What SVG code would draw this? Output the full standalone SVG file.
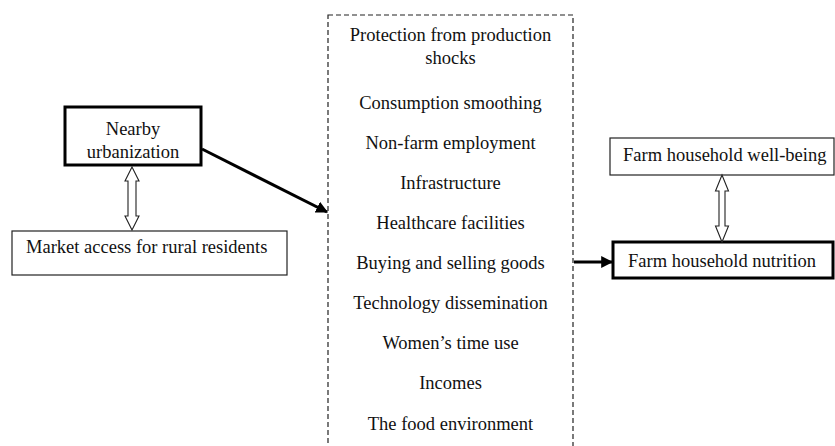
<svg xmlns="http://www.w3.org/2000/svg" width="835" height="446" viewBox="0 0 835 446" font-family="Liberation Serif, Times New Roman, serif" font-size="18.5">
  <defs>
    <marker id="head" viewBox="0 0 10 10" refX="9" refY="5" markerWidth="4" markerHeight="4" orient="auto" markerUnits="strokeWidth">
      <path d="M0,0 L10,5 L0,10 z" fill="#000"/>
    </marker>
  </defs>
  <style>
    text { fill: #111; }
    .box { fill: #fff; stroke: #222; stroke-width: 1.2; }
    .bold { fill: #fff; stroke: #000; stroke-width: 3; }
    .dash { fill: none; stroke: #222; stroke-width: 1.2; stroke-dasharray: 5 3; }
    .link { fill: none; stroke: #000; stroke-width: 3; }
    .dbl { fill: #fff; stroke: #222; stroke-width: 1.1; }
    .mid { text-anchor: middle; }
  </style>
  <rect width="835" height="446" fill="#fff"/>

  <g id="urbanization">
    <rect class="bold" x="65" y="107" width="136" height="58"/>
    <text class="mid" x="133" y="135">Nearby</text>
    <text class="mid" x="133" y="158">urbanization</text>
  </g>

  <g id="market-access">
    <rect class="box" x="12" y="231" width="275" height="44"/>
    <text x="26" y="253">Market access for rural residents</text>
  </g>

  <g id="pathways">
    <rect class="dash" x="328" y="15" width="245" height="445"/>
    <text class="mid" x="450.5" y="41">Protection from production</text>
    <text class="mid" x="450.5" y="64">shocks</text>
    <text class="mid" x="450.5" y="109">Consumption smoothing</text>
    <text class="mid" x="450.5" y="149">Non-farm employment</text>
    <text class="mid" x="450.5" y="189">Infrastructure</text>
    <text class="mid" x="450.5" y="229">Healthcare facilities</text>
    <text class="mid" x="450.5" y="269">Buying and selling goods</text>
    <text class="mid" x="450.5" y="309">Technology dissemination</text>
    <text class="mid" x="450.5" y="349">Women’s time use</text>
    <text class="mid" x="450.5" y="389">Incomes</text>
    <text class="mid" x="450.5" y="430">The food environment</text>
  </g>

  <g id="well-being">
    <rect class="box" x="610" y="138" width="224" height="37"/>
    <text x="623" y="161">Farm household well-being</text>
  </g>

  <g id="nutrition">
    <rect class="bold" x="613" y="242" width="220" height="36"/>
    <text x="628" y="267">Farm household nutrition</text>
  </g>

  <g id="connectors">
    <line class="link" x1="202" y1="149" x2="327" y2="212" marker-end="url(#head)"/>
    <line class="link" x1="574" y1="262" x2="612" y2="262" marker-end="url(#head)"/>
    <polygon class="dbl" points="132,167 139,181 136,181 136,216 139,216 132,230 125,216 128,216 128,181 125,181"/>
    <polygon class="dbl" points="722,175 728.5,191 725,191 725,226 728.5,226 722,242 715.5,226 719,226 719,191 715.5,191"/>
  </g>
</svg>
